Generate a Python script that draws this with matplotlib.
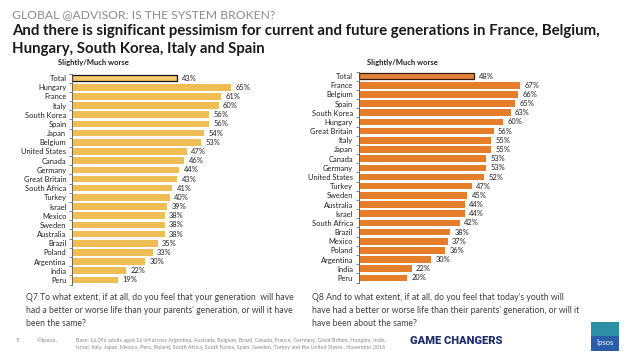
import matplotlib.pyplot as plt
from matplotlib.patches import Rectangle

# data
left_countries = ['Total', 'Hungary', 'France', 'Italy', 'South Korea', 'Spain', 'Japan', 'Belgium',
                  'United States', 'Canada', 'Germany', 'Great Britain', 'South Africa', 'Turkey',
                  'Israel', 'Mexico', 'Sweden', 'Australia', 'Brazil', 'Poland', 'Argentina',
                  'India', 'Peru']
left_values = [43, 65, 61, 60, 56, 56, 54, 53, 47, 46, 44, 43, 41, 40, 39, 38, 38, 38, 35, 33, 30, 22, 19]

right_countries = ['Total', 'France', 'Belgium', 'Spain', 'South Korea', 'Hungary', 'Great Britain',
                   'Italy', 'Japan', 'Canada', 'Germany', 'United States', 'Turkey', 'Sweden',
                   'Australia', 'Israel', 'South Africa', 'Brazil', 'Mexico', 'Poland', 'Argentina',
                   'India', 'Peru']
right_values = [48, 67, 66, 65, 63, 60, 56, 55, 55, 53, 53, 52, 47, 45, 44, 44, 42, 38, 37, 36, 30, 22, 20]

plt.rcParams['font.family'] = ['Lato', 'DejaVu Sans']

W, H = 638, 359
fig = plt.figure(figsize=(W / 100, H / 100), dpi=100)


def px_axes(x0, y_top, w, h):
    return fig.add_axes([x0 / W, 1 - (y_top + h) / H, w / W, h / H])


def draw_panel(ax, countries, values, color, total_color, edge):
    n = len(countries)
    ys = list(range(n))
    for i, (c, v) in enumerate(zip(countries, values)):
        if i == 0:
            ax.barh(i, v, height=0.72, color=total_color, edgecolor=edge, linewidth=0.9)
        else:
            ax.barh(i, v, height=0.72, color=color, linewidth=0)
        ax.text(v + 1.8, i, f'{v}%', va='center', ha='left', fontsize=5.4, color='#222222')
    ax.set_xlim(0, 70)
    ax.set_ylim(n - 0.5, -0.5)
    ax.set_yticks(ys)
    ax.set_yticklabels(countries, fontsize=5.4, color='#222222')
    ax.set_yticks([i - 0.5 for i in range(n + 1)], minor=True)
    ax.tick_params(axis='y', which='major', length=0, pad=4)
    ax.tick_params(axis='y', which='minor', length=2, width=0.5, color='#555555')
    ax.set_xticks([])
    for s in ['top', 'right', 'bottom']:
        ax.spines[s].set_visible(False)
    ax.spines['left'].set_linewidth(0.6)
    ax.spines['left'].set_color('#555555')
    ax.set_facecolor('none')


axl = px_axes(72, 73.5, 171, 211)
draw_panel(axl, left_countries, left_values, '#EEBE55', '#F3C96E', '#111111')
axr = px_axes(358.5, 71.5, 169, 211)
draw_panel(axr, right_countries, right_values, '#E57E2B', '#E2843D', '#3A1A05')

# titles
fig.text(12 / W, 1 - 18.5 / H, 'GLOBAL @ADVISOR: IS THE SYSTEM BROKEN?', fontsize=8.7,
         color='#8C8C8C', va='baseline', ha='left')
fig.text(12 / W, 1 - 30.5 / H, 'And there is significant pessimism for current and future generations in France, Belgium,',
         fontsize=10.8, fontweight='bold', color='#1A1A1A', va='center', ha='left')
fig.text(12 / W, 1 - 48.5 / H, 'Hungary, South Korea, Italy and Spain',
         fontsize=10.8, fontweight='bold', color='#1A1A1A', va='center', ha='left')

fig.text(93 / W, 1 - 63 / H, 'Slightly/Much worse', fontsize=5.5, fontweight='bold',
         color='#222222', ha='center', va='center')
fig.text(402 / W, 1 - 63 / H, 'Slightly/Much worse', fontsize=5.5, fontweight='bold',
         color='#222222', ha='center', va='center')

# questions
q7 = ("Q7 To what extent, if at all, do you feel that your generation  will have\n"
      "had a better or worse life than your parents' generation, or will it have\n"
      "been the same?")
q8 = ("Q8 And to what extent, if at all, do you feel that today's youth will\n"
      "have had a better or worse life than their parents' generation, or will it\n"
      "have been about the same?")
fig.text(26 / W, 1 - 293.5 / H, q7, fontsize=6.2, color='#404040', va='top', ha='left', linespacing=1.5)
fig.text(312 / W, 1 - 293.5 / H, q8, fontsize=6.2, color='#404040', va='top', ha='left', linespacing=1.5)

# footer
fig.text(16 / W, 1 - 340 / H, '5', fontsize=4.5, color='#888888', va='center')
fig.text(37 / W, 1 - 340 / H, '\u00a9Ipsos.', fontsize=4.5, color='#888888', va='center')
base = ("Base: 16,096 adults aged 16-64 across Argentina, Australia, Belgium, Brazil, Canada, France, Germany, Great Britain, Hungary, India,\n"
        "Israel, Italy, Japan, Mexico, Peru, Poland, South Africa, South Korea, Spain, Sweden, Turkey and the United States., November 2016")
fig.text(76 / W, 1 - 344 / H, base, fontsize=3.9, color='#888888', va='center', ha='left', linespacing=1.6)
fig.text(410 / W, 1 - 341 / H, 'GAME CHANGERS', fontsize=8, fontweight='heavy',
         color='#1F2D6B', va='center', ha='left', family=['Roboto', 'DejaVu Sans'])

logo = Rectangle((591 / W, 1 - 351 / H), 28 / W, 29 / H, transform=fig.transFigure,
                 facecolor='#2A5DA8', edgecolor='none')
fig.patches.append(logo)
logo_top = Rectangle((591 / W, 1 - 336 / H), 28 / W, 14 / H, transform=fig.transFigure,
                     facecolor='#2C8FA6', edgecolor='none')
fig.patches.append(logo_top)
fig.text(605 / W, 1 - 343 / H, 'Ipsos', fontsize=5.5, color='white', ha='center', va='center')

fig.savefig('out.png', dpi=100)
